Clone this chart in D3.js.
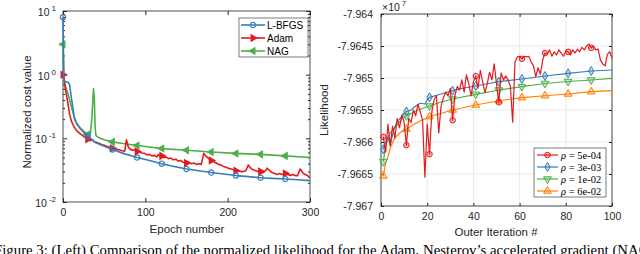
<!DOCTYPE html>
<html>
<head>
<meta charset="utf-8">
<script src="https://cdn.jsdelivr.net/npm/d3@7"></script>
<style>
body { margin: 0; background: #fff; overflow: hidden; }
svg { display: block; font-family: "Liberation Sans", Arial, sans-serif; }
</style>
</head>
<body>
<svg id="fig" width="640" height="254"></svg>
<script>
// ---- left panel: normalized cost vs epoch ----
var epochTicks = [0, 100, 200, 300];
var costTicks = [1e-2, 1e-1, 1e0, 1e1];
var costExp = ['-2', '-1', '0', '1'];
var leftNames = ['L-BFGS', 'Adam', 'NAG'];

var lbfgs = [[0, 8], [1, 0.78], [3, 0.78], [6, 0.76], [8, 0.7], [10, 0.45], [12, 0.3], [14, 0.2],
  [17, 0.165], [22, 0.138], [26, 0.12], [30, 0.108], [40, 0.085], [50, 0.075], [60, 0.067],
  [75, 0.057], [90, 0.05], [105, 0.045], [120, 0.04], [135, 0.036], [150, 0.033], [165, 0.031],
  [180, 0.029], [195, 0.0275], [210, 0.026], [225, 0.025], [240, 0.024], [255, 0.0235],
  [270, 0.023], [285, 0.0223], [300, 0.0217]];

var adam = [[0, 1.0], [1, 0.9], [2, 0.7], [4, 0.5], [6, 0.35], [8, 0.24], [10, 0.19], [13, 0.155],
  [17, 0.13], [22, 0.115], [26, 0.105], [30, 0.097], [33, 0.092], [36, 0.095], [38, 0.088],
  [41, 0.086], [44, 0.083], [47, 0.08], [50, 0.078], [53, 0.075], [56, 0.073], [60, 0.07],
  [64, 0.068], [68, 0.066], [72, 0.064], [75, 0.063], [77, 0.095], [79, 0.075], [81, 0.068],
  [84, 0.065], [87, 0.066], [90, 0.062], [93, 0.061], [96, 0.059], [99, 0.058], [102, 0.055],
  [105, 0.056], [108, 0.053], [111, 0.054], [114, 0.051], [116, 0.056], [118, 0.052],
  [120, 0.053], [122, 0.05], [125, 0.051], [128, 0.048], [131, 0.049], [134, 0.046],
  [137, 0.047], [140, 0.044], [143, 0.045], [146, 0.042], [150, 0.041], [153, 0.042],
  [156, 0.04], [159, 0.041], [162, 0.039], [165, 0.04], [168, 0.039], [171, 0.058],
  [174, 0.052], [177, 0.048], [180, 0.045], [183, 0.043], [186, 0.041], [189, 0.039],
  [192, 0.038], [195, 0.036], [198, 0.035], [201, 0.034], [204, 0.033], [207, 0.032],
  [210, 0.031], [213, 0.031], [216, 0.03], [219, 0.03], [222, 0.031], [225, 0.038],
  [228, 0.034], [231, 0.032], [234, 0.031], [237, 0.03], [240, 0.03], [243, 0.029],
  [246, 0.031], [248, 0.034], [251, 0.031], [254, 0.029], [257, 0.028], [260, 0.027],
  [263, 0.028], [266, 0.027], [270, 0.028], [273, 0.027], [276, 0.026], [279, 0.027],
  [282, 0.026], [285, 0.026], [288, 0.033], [291, 0.029], [294, 0.027], [297, 0.026],
  [300, 0.024]];

var nag = [[0, 3], [1, 1.0], [2, 0.75], [4, 0.6], [6, 0.5], [8, 0.4], [10, 0.32], [13, 0.23],
  [16, 0.18], [20, 0.15], [25, 0.13], [30, 0.115], [33, 0.11], [35, 0.2], [37, 0.6], [38, 0.45],
  [39, 0.15], [40, 0.11], [45, 0.1], [50, 0.095], [60, 0.088], [75, 0.082], [90, 0.077],
  [105, 0.073], [120, 0.069], [150, 0.065], [180, 0.061], [210, 0.058], [240, 0.056],
  [270, 0.053], [300, 0.05]];

// ---- right panel: likelihood (x10^7) vs outer iteration ----
var iterTicks = [0, 20, 40, 60, 80, 100];
var likeTicks = [-7.967, -7.9665, -7.966, -7.9655, -7.965, -7.9645, -7.964];
var likeTickLabels = ['-7.967', '-7.9665', '-7.966', '-7.9655', '-7.965', '-7.9645', '-7.964'];
var rightNames = ['5e-04', '3e-03', '1e-02', '6e-02'];

// rho = 5e-04, one value per outer iteration 1..100
var rho5e4 = [-7.96592, -7.96616, -7.96572, -7.96606, -7.96575, -7.96594, -7.96563, -7.96578, -7.96558, -7.96569,
  -7.96605, -7.96563, -7.9657, -7.9655, -7.96559, -7.96541, -7.96553, -7.96566, -7.96655, -7.96572,
  -7.96619, -7.96553, -7.96534, -7.96528, -7.96586, -7.96544, -7.96531, -7.96522, -7.96528, -7.96516,
  -7.96566, -7.96528, -7.96513, -7.96519, -7.96503, -7.96522, -7.96495, -7.96509, -7.96528, -7.96506,
  -7.96497, -7.96516, -7.96488, -7.96506, -7.96523, -7.96509, -7.96491, -7.96503, -7.96478, -7.96509,
  -7.96538, -7.96492, -7.96503, -7.96497, -7.96503, -7.96513, -7.96569, -7.96475, -7.96467, -7.96466,
  -7.9647, -7.96466, -7.96467, -7.96466, -7.96475, -7.96481, -7.96498, -7.96484, -7.96494, -7.96472,
  -7.96461, -7.96463, -7.96456, -7.96466, -7.96459, -7.96464, -7.96456, -7.96461, -7.96466, -7.96458,
  -7.96459, -7.96464, -7.96456, -7.96461, -7.96455, -7.96459, -7.96452, -7.96456, -7.9645, -7.96447,
  -7.96453, -7.9645, -7.96456, -7.96455, -7.96472, -7.96478, -7.96481, -7.96463, -7.96459, -7.96469];

var rho3e3 = [[1, -7.966114], [2, -7.965995], [3, -7.965927], [4, -7.966047], [5, -7.965891],
  [6, -7.965761], [7, -7.965683], [8, -7.965641], [9, -7.965605], [10, -7.965547], [11, -7.965523],
  [13, -7.9655], [15, -7.965438], [17, -7.965395], [19, -7.965406], [20, -7.965344], [21, -7.965302],
  [26, -7.96525], [31, -7.965198], [36, -7.965156], [41, -7.965125], [46, -7.96509], [51, -7.965058],
  [61, -7.965016], [71, -7.964969], [81, -7.964927], [91, -7.964891], [100, -7.964875]];

var rho1e2 = [[1, -7.966308], [2, -7.966073], [3, -7.965938], [4, -7.965859], [5, -7.965813],
  [7, -7.965734], [9, -7.965641], [11, -7.965594], [16, -7.9655], [21, -7.965438], [26, -7.965375],
  [31, -7.965328], [41, -7.965255], [51, -7.965188], [61, -7.965136], [71, -7.965086],
  [81, -7.965055], [91, -7.965031], [100, -7.965005]];

var rho6e2 = [[1, -7.966531], [2, -7.966328], [3, -7.96623], [4, -7.966094], [5, -7.966016],
  [6, -7.965938], [8, -7.965859], [11, -7.965797], [16, -7.965688], [21, -7.965605], [31, -7.9655],
  [41, -7.965422], [51, -7.965355], [61, -7.965308], [71, -7.965277], [81, -7.96525],
  [91, -7.965214], [100, -7.965198]];

var leftColors = ['#377eb8', '#e41a1c', '#4daf4a'];
var rightColors = ['#e41a1c', '#377eb8', '#4daf4a', '#ff7f00'];

var svg = d3.select('#fig');
svg.append('rect').attr('width', 640).attr('height', 254).attr('fill', '#fff');

// ================= LEFT =================
var xL = d3.scaleLinear().domain([0, 300]).range([63, 310]);
var yL = d3.scaleLog().domain([1e-2, 1e1]).range([202, 11]);
var gL = svg.append('g');

var minors = [];
for (var p = -2; p < 1; p++) {
  for (var k = 2; k < 10; k++) minors.push(k * Math.pow(10, p));
}

function strip(g) { g.select('.domain').remove(); g.selectAll('line').attr('stroke', '#262626'); }

gL.append('g').attr('transform', 'translate(0,202)')
  .call(d3.axisBottom(xL).tickValues(epochTicks).tickSize(-4).tickPadding(7))
  .call(strip)
  .selectAll('text').attr('font-size', 10.5).attr('fill', '#262626').attr('font-family', null);
gL.append('g').attr('transform', 'translate(0,11)')
  .call(d3.axisTop(xL).tickValues(epochTicks).tickSize(-4).tickFormat(''))
  .call(strip);
[[63, d3.axisLeft], [310, d3.axisRight]].forEach(function(s) {
  gL.append('g').attr('transform', 'translate(' + s[0] + ',0)')
    .call(s[1](yL).tickValues(costTicks).tickSize(-4).tickFormat('')).call(strip);
  gL.append('g').attr('transform', 'translate(' + s[0] + ',0)')
    .call(s[1](yL).tickValues(minors).tickSize(-2).tickFormat('')).call(strip);
});
gL.append('rect').attr('x', 63).attr('y', 11).attr('width', 247).attr('height', 191)
  .attr('fill', 'none').attr('stroke', '#262626').attr('stroke-width', 0.8);

var yLab = gL.selectAll('.ylab').data(costTicks).enter().append('text')
  .attr('class', 'ylab').attr('x', 56).attr('y', function(d) { return yL(d) + 5; })
  .attr('text-anchor', 'end').attr('fill', '#262626').attr('font-size', 10.5);
yLab.append('tspan').text('10');
yLab.append('tspan').attr('dx', 2).attr('dy', -5).attr('font-size', 8)
  .text(function(d, i) { return costExp[i]; });

gL.append('text').attr('x', 187).attr('y', 233).attr('text-anchor', 'middle')
  .attr('font-size', 11.5).attr('fill', '#262626').text('Epoch number');
gL.append('text').attr('transform', 'translate(31,112) rotate(-90)').attr('text-anchor', 'middle')
  .attr('font-size', 11.5).attr('fill', '#262626').text('Normalized cost value');

var lineL = d3.line().x(function(d) { return xL(d[0]); }).y(function(d) { return yL(d[1]); });
var leftSeries = [lbfgs, adam, nag];
var leftSym = [
  d3.symbol().type(d3.symbolCircle).size(22),
  d3.symbol().type(d3.symbolTriangle).size(18),
  d3.symbol().type(d3.symbolTriangle).size(18)
];
var leftRot = [0, 90, -90];
// draw order: NAG, Adam, L-BFGS on top
[2, 1, 0].forEach(function(i) {
  gL.append('path').datum(leftSeries[i]).attr('d', lineL).attr('fill', 'none')
    .attr('stroke', leftColors[i]).attr('stroke-width', 1.6).attr('stroke-linejoin', 'round');
  gL.selectAll('.mk' + i).data(leftSeries[i].filter(function(d) { return d[0] % 30 === 0 && d[0] < 300; }))
    .enter().append('path').attr('class', 'mk' + i)
    .attr('d', leftSym[i])
    .attr('transform', function(d) { return 'translate(' + xL(d[0]) + ',' + yL(d[1]) + ') rotate(' + leftRot[i] + ')'; })
    .attr('fill', i === 0 ? 'none' : leftColors[i])
    .attr('stroke', leftColors[i]).attr('stroke-width', 1.2);
});

// left legend
var legL = gL.append('g');
legL.append('rect').attr('x', 239).attr('y', 18).attr('width', 69).attr('height', 39)
  .attr('fill', '#fff').attr('stroke', '#262626').attr('stroke-width', 0.6);
leftNames.forEach(function(n, i) {
  var y = 25 + i * 13;
  legL.append('line').attr('x1', 241).attr('x2', 265).attr('y1', y).attr('y2', y)
    .attr('stroke', leftColors[i]).attr('stroke-width', 1.6);
  legL.append('path').attr('d', leftSym[i])
    .attr('transform', 'translate(253,' + y + ') rotate(' + leftRot[i] + ')')
    .attr('fill', i === 0 ? 'none' : leftColors[i]).attr('stroke', leftColors[i]).attr('stroke-width', 1.2);
  legL.append('text').attr('x', 267).attr('y', y + 3.6).attr('font-size', 10)
    .attr('fill', '#000').text(n);
});

// ================= RIGHT =================
var xR = d3.scaleLinear().domain([0, 100]).range([381, 612]);
var yR = d3.scaleLinear().domain([-7.967, -7.964]).range([206, 14]);
var gR = svg.append('g');

gR.selectAll('.gx').data(iterTicks).enter().append('line')
  .attr('x1', function(d) { return xR(d); }).attr('x2', function(d) { return xR(d); })
  .attr('y1', 14).attr('y2', 206).attr('stroke', '#e3e3e3').attr('stroke-width', 0.8);
gR.selectAll('.gy').data(likeTicks).enter().append('line')
  .attr('y1', function(d) { return yR(d); }).attr('y2', function(d) { return yR(d); })
  .attr('x1', 381).attr('x2', 612).attr('stroke', '#e3e3e3').attr('stroke-width', 0.8);

gR.append('g').attr('transform', 'translate(0,206)')
  .call(d3.axisBottom(xR).tickValues(iterTicks).tickSize(-3).tickPadding(7))
  .call(strip)
  .selectAll('text').attr('font-size', 10.5).attr('fill', '#262626').attr('font-family', null);
gR.append('g').attr('transform', 'translate(0,14)')
  .call(d3.axisTop(xR).tickValues(iterTicks).tickSize(-3).tickFormat('')).call(strip);
gR.append('g').attr('transform', 'translate(381,0)')
  .call(d3.axisLeft(yR).tickValues(likeTicks).tickSize(-3).tickPadding(8)
    .tickFormat(function(d, i) { return likeTickLabels[i]; }))
  .call(strip)
  .selectAll('text').attr('font-size', 10.5).attr('fill', '#262626').attr('font-family', null);
gR.append('g').attr('transform', 'translate(612,0)')
  .call(d3.axisRight(yR).tickValues(likeTicks).tickSize(-3).tickFormat('')).call(strip);
gR.append('rect').attr('x', 381).attr('y', 14).attr('width', 231).attr('height', 192)
  .attr('fill', 'none').attr('stroke', '#262626').attr('stroke-width', 0.8);

var ex = gR.append('text').attr('x', 382).attr('y', 11).attr('font-size', 10.5).attr('fill', '#262626');
ex.append('tspan').text('\u00d710');
ex.append('tspan').attr('dx', 2).attr('dy', -5).attr('font-size', 8).text('7');

gR.append('text').attr('x', 496).attr('y', 236).attr('text-anchor', 'middle')
  .attr('font-size', 11.5).attr('fill', '#262626').text('Outer Iteration #');
gR.append('text').attr('transform', 'translate(328,110) rotate(-90)').attr('text-anchor', 'middle')
  .attr('font-size', 11.5).attr('fill', '#262626').text('Likelihood');

var redPts = rho5e4.map(function(v, i) { return [i + 1, v]; });
var rightSeries = [redPts, rho3e3, rho1e2, rho6e2];
var rightSym = [
  d3.symbol().type(d3.symbolCircle).size(24),
  d3.symbol().type(d3.symbolDiamond).size(24),
  d3.symbol().type(d3.symbolTriangle).size(26),
  d3.symbol().type(d3.symbolTriangle).size(26)
];
var rightRot = [0, 0, 180, 0];
var lineR = d3.line().x(function(d) { return xR(d[0]); }).y(function(d) { return yR(d[1]); });

[3, 2, 1, 0].forEach(function(i) {
  gR.append('path').datum(rightSeries[i]).attr('d', lineR).attr('fill', 'none')
    .attr('stroke', rightColors[i]).attr('stroke-width', 1.2).attr('stroke-linejoin', 'round');
  gR.selectAll('.rk' + i).data(rightSeries[i].filter(function(d) { return (d[0] - 1) % 10 === 0; }))
    .enter().append('path').attr('class', 'rk' + i)
    .attr('d', rightSym[i])
    .attr('transform', function(d) { return 'translate(' + xR(d[0]) + ',' + yR(d[1]) + ') rotate(' + rightRot[i] + ')'; })
    .attr('fill', rightColors[i]).attr('fill-opacity', 0.3)
    .attr('stroke', rightColors[i]).attr('stroke-width', 1);
});

// right legend
var legR = gR.append('g');
legR.append('rect').attr('x', 534).attr('y', 148).attr('width', 72).attr('height', 49)
  .attr('fill', '#fff').attr('stroke', '#262626').attr('stroke-width', 0.6);
rightNames.forEach(function(n, i) {
  var y = 155 + i * 12;
  legR.append('line').attr('x1', 537).attr('x2', 558).attr('y1', y).attr('y2', y)
    .attr('stroke', rightColors[i]).attr('stroke-width', 1.2);
  legR.append('path').attr('d', rightSym[i])
    .attr('transform', 'translate(547.5,' + y + ') rotate(' + rightRot[i] + ')')
    .attr('fill', rightColors[i]).attr('fill-opacity', 0.3).attr('stroke', rightColors[i]).attr('stroke-width', 1);
  var t = legR.append('text').attr('x', 561).attr('y', y + 3.5).attr('font-size', 10.5)
    .attr('font-family', '"Liberation Serif", "Times New Roman", serif').attr('fill', '#000');
  t.append('tspan').attr('font-style', 'italic').text('\u03c1');
  t.append('tspan').text(' = ' + n);
});

// caption (cut off by the page edge, as in the source figure)
svg.append('text').attr('x', -6).attr('y', 254.5).attr('font-size', 14.8)
  .attr('font-family', '"Liberation Serif", "Times New Roman", serif').attr('fill', '#000')
  .text('Figure 3: (Left) Comparison of the normalized likelihood for the Adam, Nesterov\u2019s accelerated gradient (NAG) and L-BFGS');
</script>
</body>
</html>
